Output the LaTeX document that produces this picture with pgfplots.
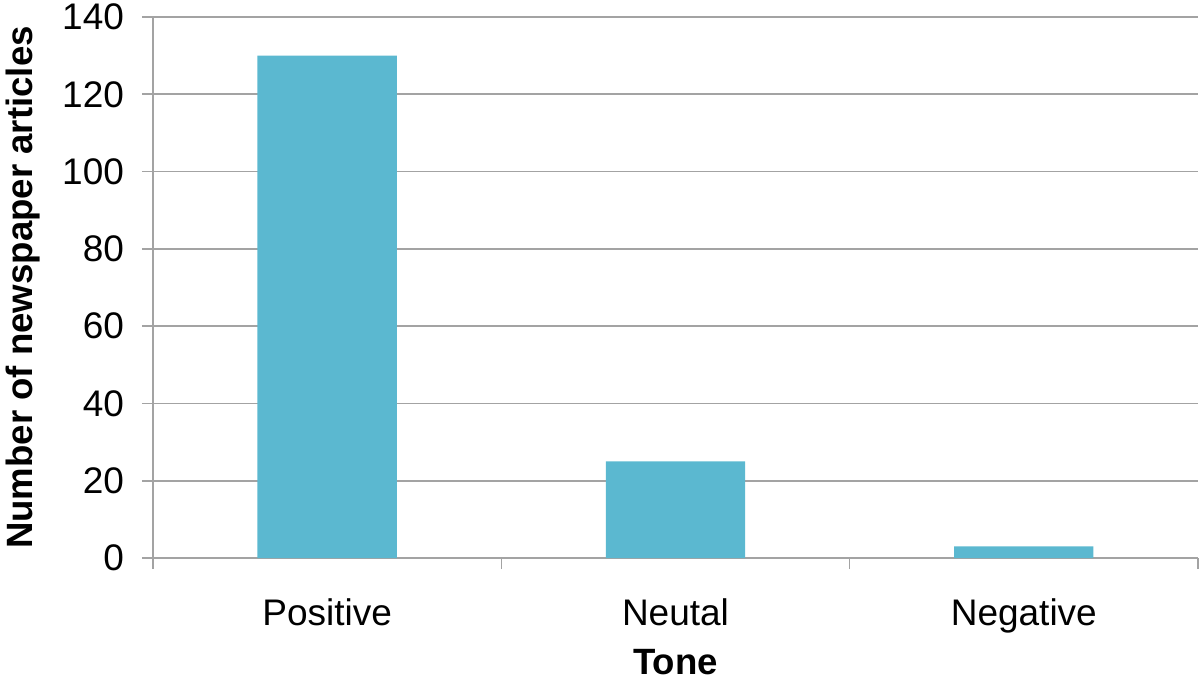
\documentclass[border=0pt]{standalone}
\usepackage{fontspec}
\setmainfont{Liberation Sans}
\usepackage{pgfplots}
\pgfplotsset{compat=1.18}
\definecolor{barblue}{HTML}{5BB8D0}
\definecolor{axgray}{HTML}{A3A3A3}
\begin{document}
\begin{tikzpicture}
\begin{axis}[
    scale only axis, width=522.5pt, height=270.5pt,
    ymin=0, ymax=140, ytick={0,20,...,140},
    xmin=-0.5, xmax=2.5,
    xtick={-0.5,0.5,1.5,2.5}, xticklabels={},
    extra x ticks={0,1,2},
    extra x tick labels={Positive,Neutal,Negative},
    extra x tick style={major tick length=0pt, grid=none},
    axis x line*=bottom, axis y line*=left,
    axis line style={draw=axgray, line width=0.8pt, -},
    tick style={draw=axgray, line width=0.8pt},
    tick align=outside, major tick length=5.5pt,
    ymajorgrids, grid style={draw=axgray, line width=0.8pt},
    tick label style={font=\fontsize{18.5}{21}\selectfont},
    /pgf/number format/assume math mode=true,
    yticklabel style={xshift=-5.5pt},
    xticklabel style={yshift=-17pt},
    xlabel={\textbf{Tone}}, ylabel={\textbf{Number of newspaper articles}},
    label style={font=\fontsize{18.3}{21}\selectfont},
    xlabel style={yshift=4.5pt},
    ylabel style={yshift=4pt},
    ybar, bar width=0.4,
]
\addplot[draw=none, fill=barblue] coordinates {(0,130) (1,25) (2,3)};
\end{axis}
\pgfresetboundingbox
\path[use as bounding box] (-76.5pt,-61.5pt) rectangle (523.5pt,279pt);
\end{tikzpicture}
\end{document}
